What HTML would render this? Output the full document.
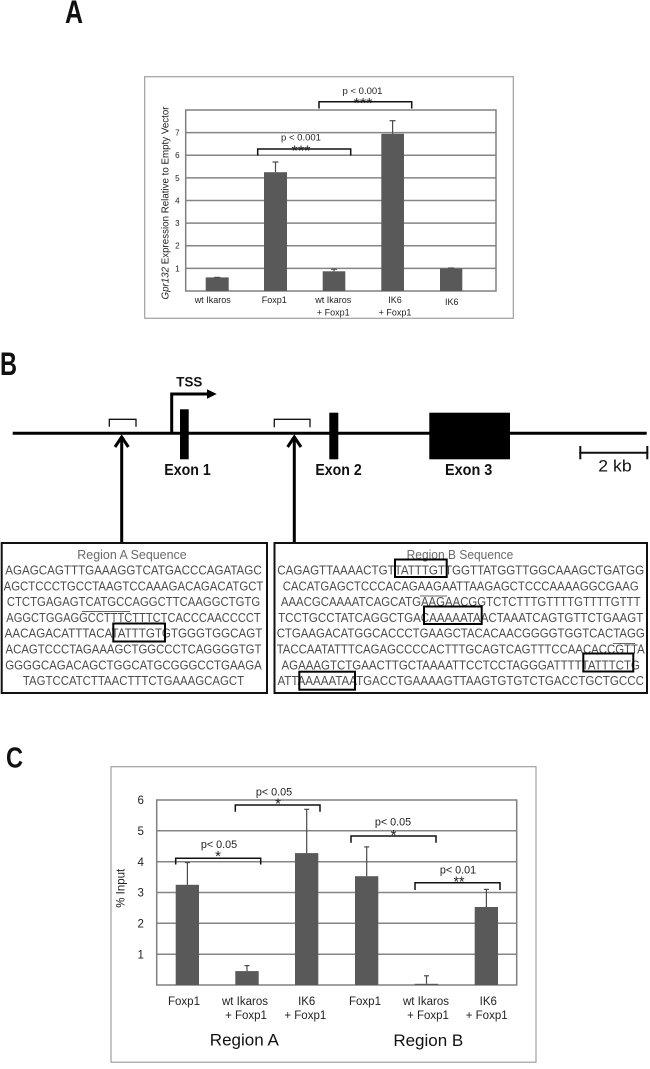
<!DOCTYPE html>
<html><head><meta charset="utf-8"><style>
html,body{margin:0;padding:0;background:#fff;}
svg{display:block;}
text{font-family:"Liberation Sans",Arial,sans-serif;}
</style></head><body>
<svg width="650" height="1069" viewBox="0 0 650 1069" xmlns="http://www.w3.org/2000/svg">
<rect x="0" y="0" width="650" height="1069" fill="#fff"/>

<!-- Panel letters -->
<text x="65" y="23" font-size="32" font-weight="bold" textLength="18" lengthAdjust="spacingAndGlyphs" fill="#111">A</text>
<text x="0" y="375" font-size="32" font-weight="bold" textLength="17" lengthAdjust="spacingAndGlyphs" fill="#111">B</text>
<text x="6" y="767.5" font-size="29" font-weight="bold" textLength="17" lengthAdjust="spacingAndGlyphs" fill="#111">C</text>

<!-- ============ PANEL A ============ -->
<rect x="144.7" y="76.7" width="368.6" height="241.6" fill="none" stroke="#a0a0a0" stroke-width="1.2"/>
<g stroke="#858585" stroke-width="1.5">
<line x1="185.7" y1="268.4" x2="496" y2="268.4"/>
<line x1="185.7" y1="245.75" x2="496" y2="245.75"/>
<line x1="185.7" y1="223.1" x2="496" y2="223.1"/>
<line x1="185.7" y1="200.5" x2="496" y2="200.5"/>
<line x1="185.7" y1="177.9" x2="496" y2="177.9"/>
<line x1="185.7" y1="155.25" x2="496" y2="155.25"/>
<line x1="185.7" y1="132.6" x2="496" y2="132.6"/>
</g>
<rect x="185.7" y="110" width="310.3" height="181" fill="none" stroke="#808080" stroke-width="1.5"/>
<g fill="#595959">
<rect x="205.7" y="277.4" width="23" height="13.6"/>
<rect x="264" y="172.2" width="23" height="118.8"/>
<rect x="322.7" y="271.3" width="22.6" height="19.7"/>
<rect x="381.3" y="133.8" width="22.7" height="157.2"/>
<rect x="440" y="268.4" width="22.3" height="22.6"/>
</g>
<g stroke="#4a4a4a" stroke-width="1.2">
<line x1="275.5" y1="172.2" x2="275.5" y2="162"/><line x1="272.5" y1="162" x2="278.5" y2="162"/>
<line x1="334" y1="271.3" x2="334" y2="269.2"/><line x1="331" y1="269.2" x2="337" y2="269.2"/>
<line x1="392.6" y1="133.8" x2="392.6" y2="120.7"/><line x1="389.6" y1="120.7" x2="395.6" y2="120.7"/>
<line x1="214.2" y1="277.4" x2="220.2" y2="277.4"/>
<line x1="448.2" y1="268" x2="454.2" y2="268"/>
</g>
<g font-size="8" fill="#222" text-anchor="middle">
<text x="177.3" y="271.3">1</text>
<text x="177.3" y="248.7">2</text>
<text x="177.3" y="226">3</text>
<text x="177.3" y="203.4">4</text>
<text x="177.3" y="180.8">5</text>
<text x="177.3" y="158.2">6</text>
<text x="177.3" y="135.5">7</text>
</g>
<text transform="translate(168.5,203) rotate(-90)" text-anchor="middle" font-size="10.5" fill="#222" textLength="193" lengthAdjust="spacingAndGlyphs"><tspan font-style="italic">Gpr132</tspan> Expression Relative to Empty Vector</text>
<g font-size="9" fill="#222" text-anchor="middle">
<text x="212.7" y="303.2">wt Ikaros</text>
<text x="274.3" y="303.2">Foxp1</text>
<text x="333.3" y="303.2">wt Ikaros</text>
<text x="333.3" y="315.5">+ Foxp1</text>
<text x="395" y="303.2">IK6</text>
<text x="395" y="315.5">+ Foxp1</text>
<text x="451.7" y="305">IK6</text>
</g>
<g stroke="#111" stroke-width="1.5" fill="none">
<polyline points="257.7,155.5 257.7,149 350.7,149 350.7,155.5"/>
<polyline points="319,108.5 319,101.7 411.7,101.7 411.7,108.5"/>
</g>
<g fill="#222" text-anchor="middle">
<text x="301" y="140.7" font-size="9.5">p &lt; 0.001</text>
<text x="301" y="155.3" font-size="15" textLength="19" lengthAdjust="spacingAndGlyphs">***</text>
<text x="362.5" y="94" font-size="9.5">p &lt; 0.001</text>
<text x="363" y="108" font-size="15" textLength="19" lengthAdjust="spacingAndGlyphs">***</text>
</g>

<!-- ============ PANEL B ============ -->
<line x1="12.7" y1="433.3" x2="646.7" y2="433.3" stroke="#000" stroke-width="3"/>
<rect x="180" y="409.3" width="8.7" height="50" fill="#000"/>
<rect x="329.3" y="412.7" width="9" height="46.6" fill="#000"/>
<rect x="429.3" y="412.7" width="80.7" height="46.6" fill="#000"/>
<path d="M171.7,434 V394 H209" fill="none" stroke="#000" stroke-width="3"/>
<polygon points="207,389.3 216.7,394 207,398.7" fill="#000"/>
<text x="189.3" y="386.7" font-size="14" font-weight="bold" text-anchor="middle" textLength="26" lengthAdjust="spacingAndGlyphs" fill="#111">TSS</text>
<g font-size="16" font-weight="bold" fill="#111">
<text x="164.3" y="474.8" textLength="46.4" lengthAdjust="spacingAndGlyphs">Exon 1</text>
<text x="315.4" y="474.8" textLength="46.3" lengthAdjust="spacingAndGlyphs">Exon 2</text>
<text x="445" y="474.8" textLength="47.3" lengthAdjust="spacingAndGlyphs">Exon 3</text>
</g>
<g stroke="#111" stroke-width="1.3" fill="none">
<polyline points="109.3,426.7 109.3,419.3 136,419.3 136,426.7"/>
<polyline points="274.3,427.3 274.3,419.3 310,419.3 310,427.3"/>
</g>
<g stroke="#000" stroke-width="3" fill="none">
<line x1="121.7" y1="543" x2="121.7" y2="437"/>
<polyline points="115,447 121.7,437 128.4,447"/>
<line x1="294.3" y1="543" x2="294.3" y2="437"/>
<polyline points="287.6,447 294.3,437 301,447"/>
</g>
<g stroke="#111" stroke-width="2">
<line x1="579.3" y1="452.7" x2="648.3" y2="452.7"/>
<line x1="580.3" y1="446" x2="580.3" y2="459.3"/>
<line x1="647.3" y1="446" x2="647.3" y2="459.3"/>
</g>
<text x="598.3" y="471.5" font-size="17" fill="#111" textLength="33.4" lengthAdjust="spacingAndGlyphs">2 kb</text>

<!-- Region boxes -->
<rect x="1.7" y="543" width="265.3" height="150" fill="none" stroke="#111" stroke-width="2"/>
<rect x="274.5" y="543" width="372.5" height="150" fill="none" stroke="#111" stroke-width="2"/>

<g font-size="12.5" fill="#6a6a6a" text-anchor="middle">
<text x="132" y="558.8" textLength="109.4" lengthAdjust="spacingAndGlyphs">Region A Sequence</text>
<text x="460" y="558.8" textLength="106.7" lengthAdjust="spacingAndGlyphs">Region B Sequence</text>
</g>

<g font-size="12.5" fill="#4d4d4d" text-anchor="middle">
<text x="133.5" y="574.5" textLength="256.4" lengthAdjust="spacingAndGlyphs">AGAGCAGTTTGAAAGGTCATGACCCAGATAGC</text>
<text x="133.5" y="590.3" textLength="259.8" lengthAdjust="spacingAndGlyphs">AGCTCCCTGCCTAAGTCCAAAGACAGACATGCT</text>
<text x="133.5" y="606.1" textLength="253.3" lengthAdjust="spacingAndGlyphs">CTCTGAGAGTCATGCCAGGCTTCAAGGCTGTG</text>
<text x="133.5" y="621.9" textLength="254.4" lengthAdjust="spacingAndGlyphs">AGGCTGGAGGCCTTTCTTTCTCACCCAACCCCT</text>
<text x="133.5" y="637.7" textLength="257.7" lengthAdjust="spacingAndGlyphs">AACAGACATTTACATATTTGTGTGGGTGGCAGT</text>
<text x="133.5" y="653.5" textLength="255.9" lengthAdjust="spacingAndGlyphs">ACAGTCCCTAGAAAGCTGGCCCTCAGGGGTGT</text>
<text x="133.5" y="669.3" textLength="256.6" lengthAdjust="spacingAndGlyphs">GGGGCAGACAGCTGGCATGCGGGCCTGAAGA</text>
<text x="133.5" y="685.1" textLength="221.2" lengthAdjust="spacingAndGlyphs">TAGTCCATCTTAACTTTCTGAAAGCAGCT</text>

<text x="460.7" y="574.5" textLength="366.8" lengthAdjust="spacingAndGlyphs">CAGAGTTAAAACTGTTATTTGTTGGTTATGGTTGGCAAAGCTGATGG</text>
<text x="460.7" y="590.3" textLength="356" lengthAdjust="spacingAndGlyphs">CACATGAGCTCCCACAGAAGAATTAAGAGCTCCCAAAAGGCGAAG</text>
<text x="460.7" y="606.1" textLength="359.7" lengthAdjust="spacingAndGlyphs">AAACGCAAAATCAGCATGAAGAACGGTCTCTTTGTTTTGTTTTGTTT</text>
<text x="460.7" y="621.9" textLength="365.2" lengthAdjust="spacingAndGlyphs">TCCTGCCTATCAGGCTGACAAAAATAACTAAATCAGTGTTCTGAAGT</text>
<text x="460.7" y="637.7" textLength="368" lengthAdjust="spacingAndGlyphs">CTGAAGACATGGCACCCTGAAGCTACACAACGGGGTGGTCACTAGG</text>
<text x="460.7" y="653.5" textLength="368" lengthAdjust="spacingAndGlyphs">TACCAATATTTCAGAGCCCCACTTTGCAGTCAGTTTCCAACACCGTTA</text>
<text x="460.7" y="669.3" textLength="358.4" lengthAdjust="spacingAndGlyphs">AGAAAGTCTGAACTTGCTAAAATTCCTCCTAGGGATTTTTATTTCTG</text>
<text x="460.7" y="685.1" textLength="366.5" lengthAdjust="spacingAndGlyphs">ATTAAAAATAATGACCTGAAAAGTTAAGTGTGTCTGACCTGCTGCCC</text>
</g>

<!-- faint overlines -->
<g stroke="#666" stroke-width="0.9">
<line x1="82" y1="611.5" x2="130" y2="611.5"/>
<line x1="420" y1="596" x2="447" y2="596"/>
<line x1="613" y1="643.5" x2="635" y2="643.5"/>
</g>

<!-- motif boxes -->
<g fill="none" stroke="#000" stroke-width="2">
<rect x="113.3" y="623.5" width="51.7" height="18"/>
<rect x="395" y="559.5" width="51.7" height="17.5"/>
<rect x="424" y="606.5" width="57.7" height="17.5"/>
<rect x="583.3" y="653.5" width="50" height="18"/>
<rect x="299.3" y="671.7" width="55.7" height="18"/>
</g>

<!-- ============ PANEL C ============ -->
<rect x="111" y="766.7" width="425" height="295.5" fill="none" stroke="#a0a0a0" stroke-width="1.2"/>
<g stroke="#858585" stroke-width="1.5">
<line x1="156.7" y1="954.2" x2="516.7" y2="954.2"/>
<line x1="156.7" y1="923.3" x2="516.7" y2="923.3"/>
<line x1="156.7" y1="892.5" x2="516.7" y2="892.5"/>
<line x1="156.7" y1="861.7" x2="516.7" y2="861.7"/>
<line x1="156.7" y1="830.8" x2="516.7" y2="830.8"/>
</g>
<rect x="156.7" y="800" width="360" height="185" fill="none" stroke="#808080" stroke-width="1.5"/>
<g fill="#595959">
<rect x="175.7" y="884.8" width="23.3" height="100.2"/>
<rect x="235.3" y="971.1" width="23.4" height="13.9"/>
<rect x="295" y="853.1" width="23.3" height="131.9"/>
<rect x="355" y="876.2" width="23.3" height="108.8"/>
<rect x="414.7" y="983.8" width="23.6" height="1.2"/>
<rect x="474.7" y="907" width="23.3" height="78"/>
</g>
<g stroke="#4a4a4a" stroke-width="1.2">
<line x1="187.4" y1="884.8" x2="187.4" y2="862.6"/><line x1="184.9" y1="862.6" x2="189.9" y2="862.6"/>
<line x1="247" y1="971.1" x2="247" y2="965.6"/><line x1="244.5" y1="965.6" x2="249.5" y2="965.6"/>
<line x1="306.7" y1="853.1" x2="306.7" y2="809.3"/><line x1="304.2" y1="809.3" x2="309.2" y2="809.3"/>
<line x1="366.7" y1="876.2" x2="366.7" y2="846.9"/><line x1="364.2" y1="846.9" x2="369.2" y2="846.9"/>
<line x1="426.5" y1="983.8" x2="426.5" y2="975.8"/><line x1="424" y1="975.8" x2="429" y2="975.8"/>
<line x1="486.4" y1="907" x2="486.4" y2="889.4"/><line x1="483.9" y1="889.4" x2="488.9" y2="889.4"/>
</g>
<g font-size="11.5" fill="#222" text-anchor="middle">
<text x="140.7" y="958.3">1</text>
<text x="140.7" y="927.4">2</text>
<text x="140.7" y="896.6">3</text>
<text x="140.7" y="865.8">4</text>
<text x="140.7" y="834.9">5</text>
<text x="140.7" y="804.1">6</text>
</g>
<text transform="translate(124.5,888.3) rotate(-90)" text-anchor="middle" font-size="11.5" fill="#222">% Input</text>
<g font-size="11.5" fill="#222" text-anchor="middle">
<text x="184" y="1005">Foxp1</text>
<text x="245" y="1005">wt Ikaros</text>
<text x="246" y="1019">+ Foxp1</text>
<text x="306.7" y="1005">IK6</text>
<text x="305.3" y="1019">+ Foxp1</text>
<text x="365" y="1005">Foxp1</text>
<text x="426" y="1005">wt Ikaros</text>
<text x="428" y="1019">+ Foxp1</text>
<text x="488.3" y="1005">IK6</text>
<text x="486.7" y="1019">+ Foxp1</text>
</g>
<g font-size="17" fill="#111" text-anchor="middle">
<text x="244.3" y="1045.5">Region A</text>
<text x="428.3" y="1046">Region B</text>
</g>
<g stroke="#111" stroke-width="1.5" fill="none">
<polyline points="175.7,864.5 175.7,858.3 260.7,858.3 260.7,864.5"/>
<polyline points="235.3,811.7 235.3,805 320,805 320,811.7"/>
<polyline points="351,842.7 351,836 436,836 436,842.7"/>
<polyline points="415,890 415,882.7 500,882.7 500,890"/>
</g>
<g fill="#222" text-anchor="middle">
<text x="219" y="848" font-size="10.8">p&lt; 0.05</text>
<text x="218" y="861" font-size="15">*</text>
<text x="274" y="795.7" font-size="10.8">p&lt; 0.05</text>
<text x="278" y="808.5" font-size="15">*</text>
<text x="393" y="825.7" font-size="10.8">p&lt; 0.05</text>
<text x="393.5" y="840" font-size="15">*</text>
<text x="458" y="873.3" font-size="10.8">p&lt; 0.01</text>
<text x="459" y="886.3" font-size="15" textLength="11" lengthAdjust="spacingAndGlyphs">**</text>
</g>
</svg>
</body></html>
